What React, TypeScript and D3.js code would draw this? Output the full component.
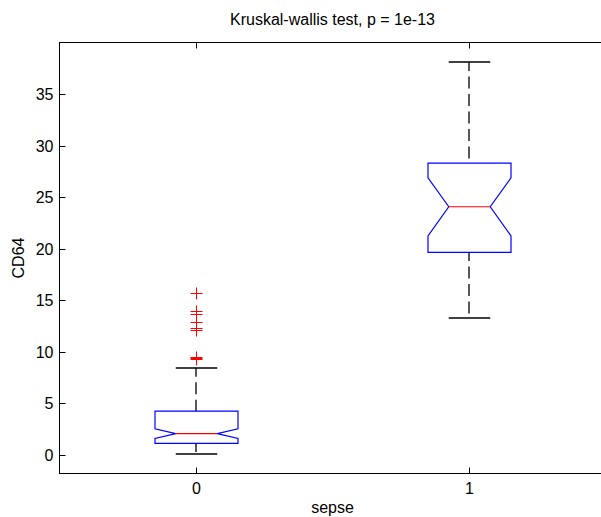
import { useRef, useEffect } from 'react';
import * as d3 from 'd3';

// group labels on the x axis
const categories: string[] = ['0', '1'];

// box statistics, one entry per group
const whiskerLow: number[] = [0.12, 13.3];
const q1: number[] = [1.13, 19.65];
const notchLow: number[] = [1.6, 21.25];
const medians: number[] = [2.07, 24.07];
const notchHigh: number[] = [2.53, 26.88];
const q3: number[] = [4.25, 28.3];
const whiskerHigh: number[] = [8.43, 38.08];

// outliers (only group 0 has them)
const outliers: number[][] = [
    [9.3, 9.4, 9.5, 12.1, 12.3, 12.9, 13.7, 14.0, 15.7],
    [],
];

const yTicks: number[] = [0, 5, 10, 15, 20, 25, 30, 35];

const title = 'Kruskal-wallis test, p = 1e-13';
const xLabel = 'sepse';
const yLabel = 'CD64';

function App() {

    //Reference to the svg
    const svgRef = useRef<SVGSVGElement>(null);

    useEffect(() => {
        const width = 601;
        const height = 517;
        const left = 59.5;
        const right = 605.5;
        const top = 42.5;
        const bottom = 473.5;
        const font = '"Liberation Sans", Arial, Helvetica, sans-serif';

        if (!svgRef.current) return;
        const svg = d3.select(svgRef.current)
            .attr('width', width)
            .attr('height', height);

        svg.selectAll('*').remove();

        const x = d3.scaleLinear().domain([-0.5, 1.5]).range([left, right]);
        const y = d3.scaleLinear().domain([-1.8, 40]).range([bottom, top]);

        const boxHalf = x(0.152) - x(0);
        const notchHalf = boxHalf / 2;
        const capHalf = boxHalf / 2;

        //Axes box
        svg.append('rect')
            .attr('x', left)
            .attr('y', top)
            .attr('width', right - left)
            .attr('height', bottom - top)
            .attr('fill', 'white')
            .attr('stroke', '#000')
            .attr('stroke-width', 1);

        //Y ticks and labels
        const yg = svg.append('g');
        yTicks.forEach(t => {
            const yy = Math.round(y(t)) + 0.5;
            yg.append('line')
                .attr('x1', left).attr('x2', left + 6)
                .attr('y1', yy).attr('y2', yy)
                .attr('stroke', '#000');
            yg.append('text')
                .attr('x', left - 6)
                .attr('y', yy)
                .attr('dy', '0.36em')
                .attr('text-anchor', 'end')
                .attr('font-family', font)
                .attr('font-size', 16)
                .attr('fill', '#000')
                .text(t);
        });

        //X ticks and labels
        const xg = svg.append('g');
        categories.forEach((c, i) => {
            const xx = Math.round(x(i)) + 0.5;
            xg.append('line')
                .attr('x1', xx).attr('x2', xx)
                .attr('y1', bottom).attr('y2', bottom - 6)
                .attr('stroke', '#000');
            xg.append('line')
                .attr('x1', xx).attr('x2', xx)
                .attr('y1', top).attr('y2', top + 6)
                .attr('stroke', '#000');
            xg.append('text')
                .attr('x', xx)
                .attr('y', 493.5)
                .attr('text-anchor', 'middle')
                .attr('font-family', font)
                .attr('font-size', 16)
                .attr('fill', '#000')
                .text(c);
        });

        //Boxes
        categories.forEach((c, i) => {
            const cx = Math.round(x(i)) + 0.5;
            const wx = Math.round(x(i));
            const g = svg.append('g');

            //Whiskers (dashed, drawn top-down)
            g.append('line')
                .attr('x1', wx).attr('x2', wx)
                .attr('y1', y(whiskerHigh[i])).attr('y2', y(q3[i]))
                .attr('stroke', '#000')
                .attr('stroke-width', 1.3)
                .attr('stroke-dasharray', '12,5.5')
                .attr('stroke-dashoffset', 3.3);
            g.append('line')
                .attr('x1', wx).attr('x2', wx)
                .attr('y1', y(q1[i])).attr('y2', y(whiskerLow[i]))
                .attr('stroke', '#000')
                .attr('stroke-width', 1.3)
                .attr('stroke-dasharray', '12,5.5')
                .attr('stroke-dashoffset', 3.3);

            //Caps
            [whiskerHigh[i], whiskerLow[i]].forEach(v => {
                const yy = Math.round(y(v));
                g.append('line')
                    .attr('x1', cx - capHalf).attr('x2', cx + capHalf)
                    .attr('y1', yy).attr('y2', yy)
                    .attr('stroke', '#000')
                    .attr('stroke-width', 1.3);
            });

            //Notched box
            const pts: [number, number][] = [
                [cx - boxHalf, y(q3[i])],
                [cx + boxHalf, y(q3[i])],
                [cx + boxHalf, y(notchHigh[i])],
                [cx + notchHalf, y(medians[i])],
                [cx + boxHalf, y(notchLow[i])],
                [cx + boxHalf, y(q1[i])],
                [cx - boxHalf, y(q1[i])],
                [cx - boxHalf, y(notchLow[i])],
                [cx - notchHalf, y(medians[i])],
                [cx - boxHalf, y(notchHigh[i])],
            ];
            g.append('path')
                .attr('d', d3.line()(pts) + 'Z')
                .attr('fill', 'none')
                .attr('stroke', '#0000ff')
                .attr('stroke-width', 1.2);

            //Median
            g.append('line')
                .attr('x1', cx - notchHalf).attr('x2', cx + notchHalf)
                .attr('y1', y(medians[i])).attr('y2', y(medians[i]))
                .attr('stroke', '#ff0000')
                .attr('stroke-width', 1.2);

            //Outliers as '+'
            outliers[i].forEach(v => {
                const yy = Math.round(y(v)) + 0.5;
                g.append('path')
                    .attr('d', `M${cx - 6},${yy}H${cx + 6}M${cx},${yy - 6}V${yy + 6}`)
                    .attr('stroke', '#ff0000')
                    .attr('fill', 'none');
            });
        });

        //Title and axis labels
        svg.append('text')
            .attr('x', (left + right) / 2)
            .attr('y', 25)
            .attr('text-anchor', 'middle')
            .attr('font-family', font)
            .attr('font-size', 16)
            .attr('fill', '#000')
            .text(title);

        svg.append('text')
            .attr('x', (left + right) / 2)
            .attr('y', 513)
            .attr('text-anchor', 'middle')
            .attr('font-family', font)
            .attr('font-size', 16)
            .attr('fill', '#000')
            .text(xLabel);

        svg.append('text')
            .attr('transform', `translate(24,${(top + bottom) / 2}) rotate(-90)`)
            .attr('text-anchor', 'middle')
            .attr('font-family', font)
            .attr('font-size', 16)
            .attr('fill', '#000')
            .text(yLabel);
    }, []);

    return <svg ref={svgRef} style={{ position: 'absolute', left: 0, top: 0, display: 'block' }} />;
}

export default App;
